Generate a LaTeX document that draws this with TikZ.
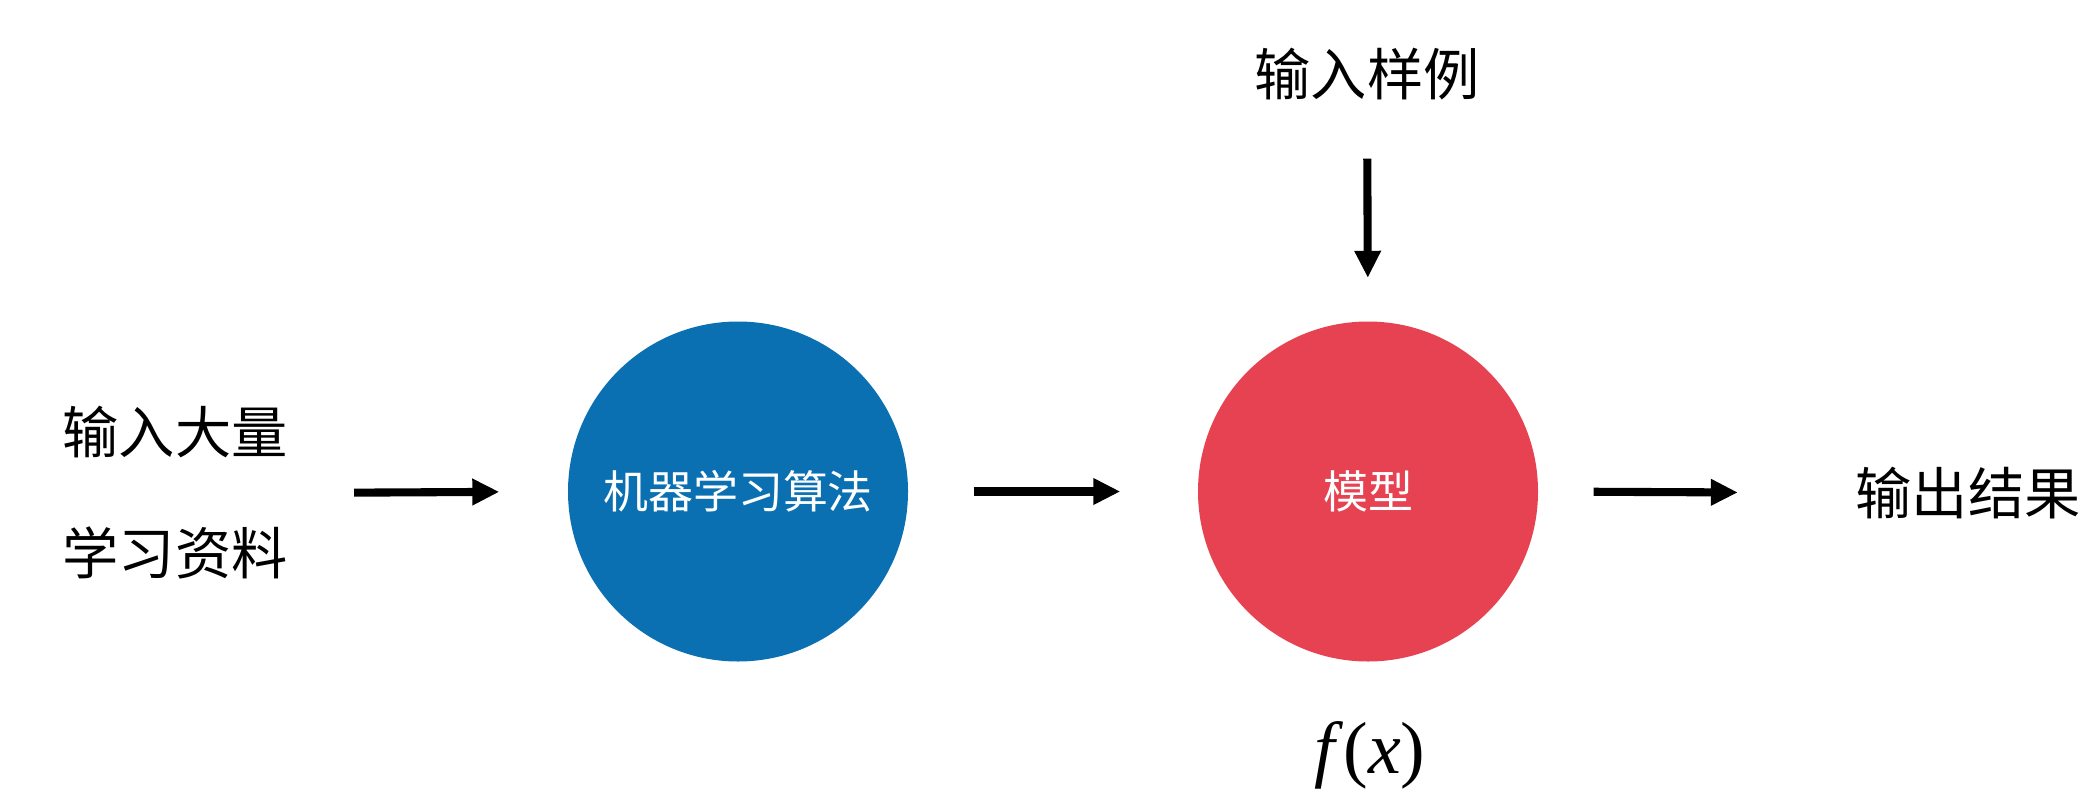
\documentclass[tikz,border=0pt]{standalone}
\usepackage{fontspec}
\setmainfont{Noto Sans CJK SC}
\newfontfamily\mathserif{Liberation Serif}
\usetikzlibrary{arrows.meta}

\definecolor{algoblue}{RGB}{10,112,178}
\definecolor{modelred}{RGB}{230,66,82}

\begin{document}
\begin{tikzpicture}[
  blob/.style={circle, minimum size=3.4cm, inner sep=0pt, text=white,
               font=\fontsize{12.8}{14}\selectfont},
  label/.style={inner sep=0pt, font=\fontsize{16}{19}\selectfont},
  flow/.style={line width=2.3pt, -{Triangle[length=0.27cm, width=0.25cm]}},
]

%% ============ FRAME ============
\useasboundingbox (0,0) rectangle (20.82,7.96);

%% ============ NODES ============
\node[label, align=center, font=\fontsize{16}{34.4}\selectfont] (input) at (1.75,3.03)
  {输入大量\\学习资料};
\node[blob, fill=algoblue] (algo) at (7.38,3.045) {机器学习算法};
\node[blob, fill=modelred] (model) at (13.68,3.045) {模型};
\node[label] (sample) at (13.67,7.22) {输入样例};
\node[label] (output) at (19.68,3.03) {输出结果};
\node[inner sep=0pt, font=\fontsize{21}{24}\selectfont\mathserif] (fx) at (13.70,0.41)
  {\textit{f}(\textit{x})};

%% ============ ARROWS ============
\draw[flow, shorten <=0.66cm, shorten >=0.68cm] (input.east) -- (algo.west);
\draw[flow, shorten <=0.65cm, shorten >=0.77cm] (algo.east) -- (model.west);
\draw[flow, shorten <=0.55cm, shorten >=1.17cm] (model.east) -- (output.west);
\draw[flow, shorten <=0.58cm, shorten >=0.43cm] (sample.south) -- (model.north);

\end{tikzpicture}
\end{document}
